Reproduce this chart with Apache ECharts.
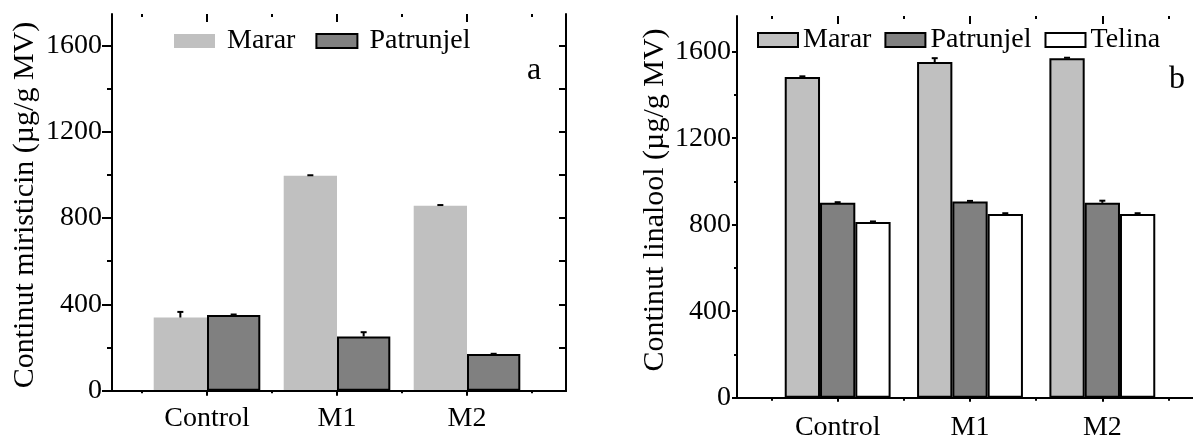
<!DOCTYPE html>
<html>
<head>
<meta charset="utf-8">
<script src="https://cdn.jsdelivr.net/npm/echarts@6/dist/echarts.min.js"></script>
<style>
html,body{margin:0;padding:0;background:#fff;}
#c{width:1193px;height:439px;}
</style>
</head>
<body>
<div id="c"></div>
<script>
// ---- data ----
const categories = ['Control', 'M1', 'M2'];
// chart a: miristicin
const mirMarar = [339, 996, 857];
const mirMararErr = [26, 2, 3];
const mirPatrunjel = [351, 251, 170];
const mirPatrunjelErr = [2, 20, 1];
// chart b: linalool
const linMarar = [1483, 1552, 1570];
const linMararErr = [3, 18, 2];
const linPatrunjel = [901, 907, 901];
const linPatrunjelErr = [3, 3, 10];
const linTelina = [813, 850, 850];
const linTelinaErr = [2, 3, 3];
// ticks
const majorTicks = [0, 400, 800, 1200, 1600];
const minorTicks = [200, 600, 1000, 1400];
const allTicks = [0, 200, 400, 600, 800, 1000, 1200, 1400, 1600];
const maxA = 1745;
const maxB = 1765;

const FONT = '"Liberation Serif", "Times New Roman", serif';
const BLACK = '#000';
const cMarar = '#c0c0c0', cPatr = '#808080', cTel = '#ffffff';

const chart = echarts.init(document.getElementById('c'), null, {renderer: 'canvas'});

function errRender(nSeries, k, gapFrac) {
  return function (params, api) {
    const idx = api.value(0), v = api.value(1), e = api.value(2);
    const base = api.coord([idx, v]);
    const top = api.coord([idx, v + e]);
    const band = api.size([1, 0])[0];
    const groupW = band * (1 - gapFrac);
    const bw = groupW / nSeries;
    const cx = base[0] - groupW / 2 + bw * (k + 0.5);
    const cap = 3;
    return {
      type: 'group',
      children: [
        {type: 'line', shape: {x1: cx, y1: base[1], x2: cx, y2: top[1]}, style: {stroke: BLACK, lineWidth: 2}},
        {type: 'line', shape: {x1: cx - cap, y1: top[1], x2: cx + cap, y2: top[1]}, style: {stroke: BLACK, lineWidth: 2}}
      ]
    };
  };
}
function errData(vals, errs) {
  return vals.map((v, i) => [i, v, errs[i]]);
}

const lineStyle = {color: BLACK, width: 2};

function frameX(grid, pos) {
  return {gridIndex: grid, type: 'value', min: 0, max: 1, position: pos, z: 10,
    axisLine: {show: true, lineStyle: lineStyle}, axisTick: {show: false},
    axisLabel: {show: false}, splitLine: {show: false}};
}
function catX(grid, pos, align, len, inside, labels, margin) {
  return {gridIndex: grid, type: 'category', data: categories, position: pos, z: 10,
    axisLine: {show: false},
    axisTick: {show: true, alignWithLabel: align, length: len, inside: inside, lineStyle: lineStyle},
    axisLabel: {show: labels, fontFamily: FONT, fontSize: 28, color: BLACK, margin: margin},
    splitLine: {show: false}};
}
function yMain(grid, max, tickLen, margin) {
  return {gridIndex: grid, type: 'value', min: 0, max: max, position: 'left', z: 10,
    axisLine: {show: true, lineStyle: lineStyle},
    axisTick: {show: true, length: tickLen, customValues: majorTicks, lineStyle: lineStyle},
    axisLabel: {show: true, customValues: majorTicks, fontFamily: FONT, fontSize: 28, color: BLACK, margin: margin,
      formatter: function (v) { return String(v); }},
    splitLine: {show: false}};
}
function yMinor(grid, max, tickLen) {
  return {gridIndex: grid, type: 'value', min: 0, max: max, position: 'left', z: 10,
    axisLine: {show: false},
    axisTick: {show: true, length: tickLen, customValues: minorTicks, lineStyle: lineStyle},
    axisLabel: {show: false}, splitLine: {show: false}};
}

const option = {
  animation: false,
  backgroundColor: '#fff',
  grid: [
    {left: 112, top: 14, width: 454, height: 376.7, outerBoundsMode: 'none', containLabel: false},
    {left: 142, top: 14, width: 390, height: 376.7, outerBoundsMode: 'none', containLabel: false},
    {left: 737, top: 16, width: 480, height: 381.7, outerBoundsMode: 'none', containLabel: false},
    {left: 771.5, top: 16, width: 397, height: 381.7, outerBoundsMode: 'none', containLabel: false}
  ],
  xAxis: [
    frameX(0, 'bottom'),
    frameX(0, 'top'),
    catX(1, 'bottom', true, 5, false, true, 14),
    catX(1, 'bottom', false, 2.5, false, false, 8),
    catX(1, 'top', true, 8, true, false, 8),
    catX(1, 'top', false, 3, true, false, 8),
    frameX(2, 'bottom'),
    frameX(2, 'top'),
    catX(3, 'bottom', true, 4, false, true, 16),
    catX(3, 'bottom', false, 3, false, false, 8),
    catX(3, 'top', true, 8, true, false, 8),
    catX(3, 'top', false, 3, true, false, 8)
  ],
  yAxis: [
    yMain(0, maxA, 10, 10),
    yMinor(0, maxA, 5),
    {gridIndex: 0, type: 'value', min: 0, max: maxA, position: 'right', z: 10,
      axisLine: {show: true, lineStyle: lineStyle},
      axisTick: {show: true, inside: true, length: 7, customValues: allTicks, lineStyle: lineStyle},
      axisLabel: {show: false}, splitLine: {show: false}},
    {gridIndex: 1, type: 'value', min: 0, max: maxA, show: false},
    yMain(2, maxB, 5, 6),
    yMinor(2, maxB, 3),
    {gridIndex: 3, type: 'value', min: 0, max: maxB, show: false}
  ],
  legend: [
    {left: 169, top: 22, itemWidth: 41, itemHeight: 14, itemGap: 20, icon: 'rect',
      selectedMode: false,
      textStyle: {fontFamily: FONT, fontSize: 28, color: BLACK, padding: [6, 0, 0, 7]},
      data: [
        {name: 'Marar', itemStyle: {color: cMarar, borderWidth: 0}},
        {name: 'Patrunjel', itemStyle: {color: cPatr, borderColor: BLACK, borderWidth: 2}}
      ]},
    {left: 752, top: 21, itemWidth: 40, itemHeight: 14, itemGap: 13, icon: 'rect',
      selectedMode: false,
      textStyle: {fontFamily: FONT, fontSize: 28, color: BLACK, padding: [6, 0, 0, 0]},
      data: [
        {name: 'Marar', itemStyle: {color: cMarar, borderColor: BLACK, borderWidth: 2}},
        {name: 'Patrunjel', itemStyle: {color: cPatr, borderColor: BLACK, borderWidth: 2}},
        {name: 'Telina', itemStyle: {color: cTel, borderColor: BLACK, borderWidth: 2}}
      ]}
  ],
  series: [
    {name: 'Marar', type: 'bar', xAxisIndex: 2, yAxisIndex: 3, data: mirMarar,
      barGap: '0%', barCategoryGap: '18%',
      itemStyle: {color: cMarar, borderWidth: 0}},
    {name: 'Patrunjel', type: 'bar', xAxisIndex: 2, yAxisIndex: 3, data: mirPatrunjel,
      barGap: '0%', barCategoryGap: '18%',
      itemStyle: {color: cPatr, borderColor: BLACK, borderWidth: 2}},
    {name: 'errA0', type: 'custom', xAxisIndex: 2, yAxisIndex: 3, z: 4,
      renderItem: errRender(2, 0, 0.18), data: errData(mirMarar, mirMararErr), encode: {x: 0, y: 1}},
    {name: 'errA1', type: 'custom', xAxisIndex: 2, yAxisIndex: 3, z: 4,
      renderItem: errRender(2, 1, 0.18), data: errData(mirPatrunjel, mirPatrunjelErr), encode: {x: 0, y: 1}},

    {name: 'Marar', type: 'bar', xAxisIndex: 8, yAxisIndex: 6, data: linMarar,
      barGap: '0%', barCategoryGap: '20%',
      itemStyle: {color: cMarar, borderColor: BLACK, borderWidth: 2}},
    {name: 'Patrunjel', type: 'bar', xAxisIndex: 8, yAxisIndex: 6, data: linPatrunjel,
      barGap: '0%', barCategoryGap: '20%',
      itemStyle: {color: cPatr, borderColor: BLACK, borderWidth: 2}},
    {name: 'Telina', type: 'bar', xAxisIndex: 8, yAxisIndex: 6, data: linTelina,
      barGap: '0%', barCategoryGap: '20%',
      itemStyle: {color: cTel, borderColor: BLACK, borderWidth: 2}},
    {name: 'errB0', type: 'custom', xAxisIndex: 8, yAxisIndex: 6, z: 4,
      renderItem: errRender(3, 0, 0.20), data: errData(linMarar, linMararErr), encode: {x: 0, y: 1}},
    {name: 'errB1', type: 'custom', xAxisIndex: 8, yAxisIndex: 6, z: 4,
      renderItem: errRender(3, 1, 0.20), data: errData(linPatrunjel, linPatrunjelErr), encode: {x: 0, y: 1}},
    {name: 'errB2', type: 'custom', xAxisIndex: 8, yAxisIndex: 6, z: 4,
      renderItem: errRender(3, 2, 0.20), data: errData(linTelina, linTelinaErr), encode: {x: 0, y: 1}}
  ],
  graphic: [
    {type: 'text', x: 25, y: 205, rotation: Math.PI / 2,
      style: {text: 'Continut miristicin (µg/g MV)', font: '30px ' + FONT, fill: BLACK, align: 'center', verticalAlign: 'middle'}},
    {type: 'text', x: 655, y: 200, rotation: Math.PI / 2,
      style: {text: 'Continut linalool (µg/g MV)', font: '30px ' + FONT, fill: BLACK, align: 'center', verticalAlign: 'middle'}},
    {type: 'text', x: 534, y: 71,
      style: {text: 'a', font: '32px ' + FONT, fill: BLACK, align: 'center', verticalAlign: 'middle'}},
    {type: 'text', x: 1177, y: 80,
      style: {text: 'b', font: '32px ' + FONT, fill: BLACK, align: 'center', verticalAlign: 'middle'}}
  ]
};
chart.setOption(option);
</script>
</body>
</html>
